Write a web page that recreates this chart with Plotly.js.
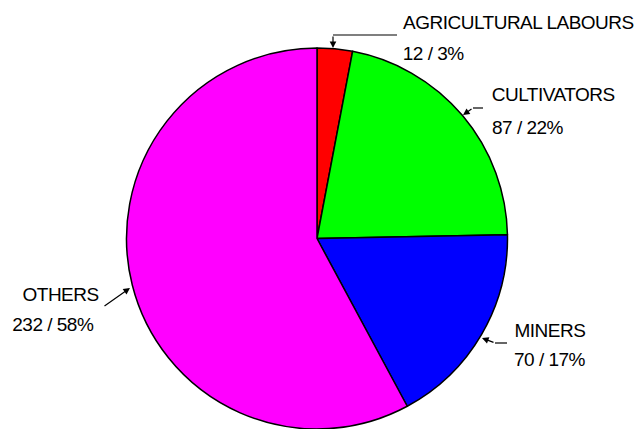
<!DOCTYPE html>
<html>
<head>
<meta charset="utf-8">
<script src="https://cdn.plot.ly/plotly-3.0.1.min.js"></script>
<style>html,body{margin:0;padding:0;background:#fff;}#chart{width:640px;height:429px;}
#chart .annotation-text{letter-spacing:-0.5px;}</style>
</head>
<body>
<div id="chart"></div>
<script>
const categories = ["AGRICULTURAL LABOURS", "CULTIVATORS", "MINERS", "OTHERS"];
const values = [12, 87, 70, 232];
const percents = ["3%", "22%", "17%", "58%"];
const colors = ["#ff0000", "#00ff00", "#0000ff", "#ff00ff"];

const W = 640, H = 429;
const px = x => x / W;
const py = y => 1 - y / H;

const font = {family: "Liberation Sans, Arial, sans-serif", size: 19, color: "#000"};
const LS = -0.5; // letter spacing set in CSS; compensate anchor drift
const shiftX = s => s.length * LS / 2;

// label text positions (pixels): [left x line1, y line1, left x line2, y line2]
const labelPos = [
  [402, 23, 402, 53],
  [491, 95, 491, 127],
  [513, 330, 513, 359],
  [21, 294, 11, 324]
];
// arrow tips and tail offsets
const arrows = [
  {x: 333, y: 48, ax: 0, ay: -13},
  {x: 463, y: 115, ax: 10, ay: -7},
  {x: 482, y: 338, ax: 13, ay: 5},
  {x: 130, y: 288, ax: -27, ay: 19}
];
const leaders = [
  [[397, 35], [333, 35]],
  [[483, 108], [473, 108]],
  [[507, 343], [495, 343]],
  null
];

const annotations = [];
const shapes = [];
categories.forEach((c, i) => {
  const p = labelPos[i];
  const t2 = values[i] + " / " + percents[i];
  annotations.push({x: px(p[0] + shiftX(c)), y: py(p[1]), xref: "paper", yref: "paper", text: c,
    showarrow: false, xanchor: "left", yanchor: "middle", font: font, borderpad: 0});
  annotations.push({x: px(p[2] + shiftX(t2)), y: py(p[3]), xref: "paper", yref: "paper",
    text: t2,
    showarrow: false, xanchor: "left", yanchor: "middle", font: font, borderpad: 0});
  const a = arrows[i];
  annotations.push({x: px(a.x), y: py(a.y), xref: "paper", yref: "paper", text: "",
    showarrow: true, ax: a.ax, ay: a.ay, arrowhead: 2, arrowsize: 1.1, arrowwidth: 1.2,
    arrowcolor: "#000", standoff: 0, startstandoff: 0, font: {size: 1}});
  const l = leaders[i];
  if (l) {
    shapes.push({type: "line", xref: "paper", yref: "paper",
      x0: px(l[0][0]), y0: py(l[0][1]), x1: px(l[1][0]), y1: py(l[1][1]),
      line: {color: "#000", width: 1.2}});
  }
});

const trace = {
  type: "pie",
  labels: categories,
  values: values,
  sort: false,
  direction: "clockwise",
  rotation: 0,
  marker: {colors: colors, line: {color: "#000", width: 1.5}},
  textinfo: "none",
  hoverinfo: "none",
  showlegend: false,
  domain: {x: [126.5 / W, 507.5 / W], y: [0, 381 / H]}
};

Plotly.newPlot("chart", [trace], {
  width: W, height: H,
  margin: {l: 0, r: 0, t: 0, b: 0},
  paper_bgcolor: "#fff",
  showlegend: false,
  annotations: annotations,
  shapes: shapes
}, {staticPlot: true, displayModeBar: false});
</script>
</body>
</html>
